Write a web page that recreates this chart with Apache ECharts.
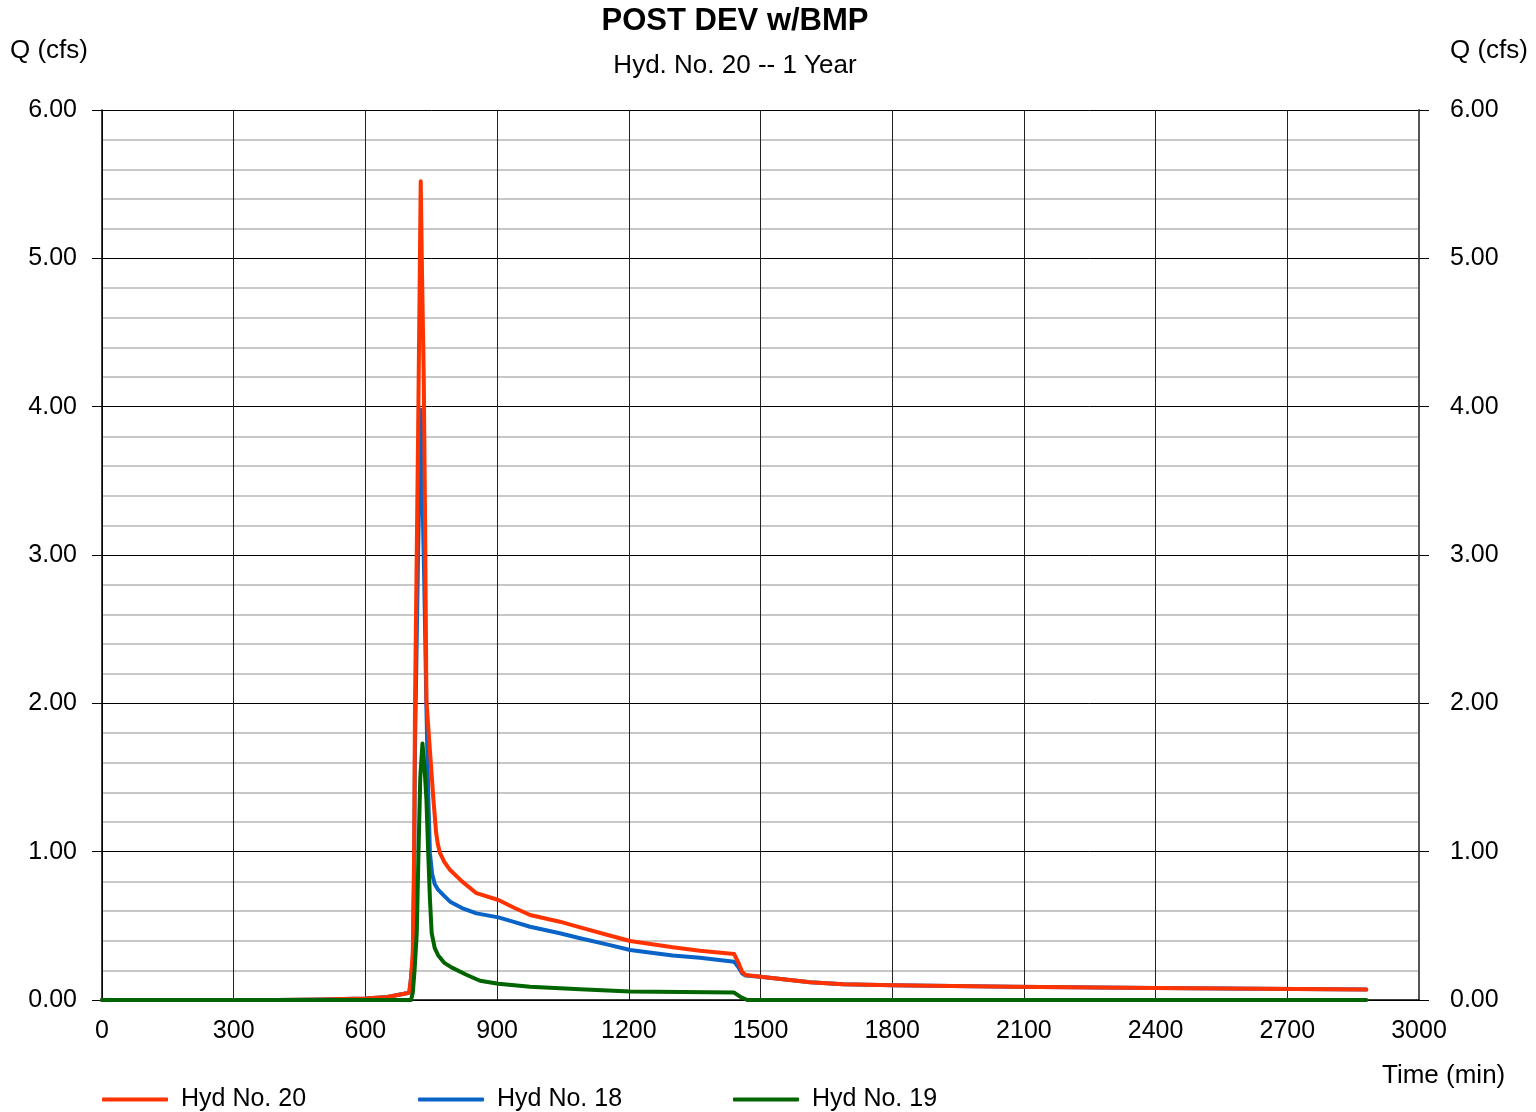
<!DOCTYPE html>
<html>
<head>
<meta charset="utf-8">
<title>POST DEV w/BMP</title>
<script src="https://cdn.jsdelivr.net/npm/echarts@6/dist/echarts.min.js"></script>
<style>
  html, body { margin: 0; padding: 0; background: #ffffff; }
  #chart { width: 1536px; height: 1112px; }
</style>
</head>
<body>
<div id="chart"></div>
<script>
// Hydrograph ordinates: time (min) and flow (cfs) per hydrograph
const hyd20Time = [0, 400, 500, 600, 650, 694, 700, 704, 708, 711, 713, 720, 726, 729, 733, 736, 739, 747, 755, 761, 765, 770, 780, 793, 820, 853, 903, 940, 975, 1043, 1089, 1150, 1203, 1300, 1362, 1440, 1450, 1458, 1466, 1500, 1613, 1688, 1800, 2074, 2399, 2880];
const hyd20Flow = [0, 0, 0.003, 0.01, 0.02, 0.045, 0.05, 0.15, 0.32, 1.0, 2.0, 3.8, 5.52, 4.9, 4.18, 3.2, 2.02, 1.68, 1.35, 1.13, 1.05, 0.99, 0.93, 0.876, 0.80, 0.72, 0.674, 0.62, 0.573, 0.528, 0.49, 0.44, 0.398, 0.355, 0.332, 0.31, 0.25, 0.19, 0.168, 0.157, 0.119, 0.106, 0.10, 0.09, 0.081, 0.07];

const hyd18Time = [0, 400, 500, 600, 650, 694, 700, 704, 708, 711, 713, 720, 726, 730, 734, 739, 743, 747, 752, 758, 766, 780, 793, 820, 853, 903, 940, 975, 1043, 1089, 1150, 1203, 1300, 1362, 1440, 1450, 1458, 1466, 1500, 1613, 1688, 1800, 2074, 2399, 2880];
const hyd18Flow = [0, 0, 0.003, 0.01, 0.02, 0.045, 0.05, 0.15, 0.28, 0.85, 1.7, 3.0, 3.98, 3.4, 2.83, 1.97, 1.4, 0.99, 0.85, 0.78, 0.742, 0.70, 0.663, 0.62, 0.584, 0.557, 0.525, 0.494, 0.45, 0.416, 0.375, 0.337, 0.30, 0.285, 0.258, 0.22, 0.18, 0.165, 0.157, 0.119, 0.106, 0.10, 0.09, 0.081, 0.07];

const hyd19Time = [0, 704, 708, 712, 717, 721, 725, 730, 735, 739, 743, 747, 751, 758, 766, 780, 796, 830, 861, 903, 975, 1089, 1203, 1440, 1455, 1470, 2880];
const hyd19Flow = [0, 0, 0.05, 0.2, 0.45, 1.0, 1.5, 1.73, 1.55, 1.35, 1.0, 0.68, 0.45, 0.35, 0.3, 0.25, 0.22, 0.17, 0.13, 0.11, 0.09, 0.073, 0.058, 0.05, 0.02, 0, 0];

// Axis settings
const timeMin = 0, timeMax = 3000, timeStep = 300;
const flowMin = 0, flowMax = 6, flowStep = 1;

const FONT = '"Liberation Sans", Arial, Helvetica, sans-serif';

function pairs(t, q) { return t.map((v, i) => [v, q[i]]); }

const chart = echarts.init(document.getElementById('chart'), null, { renderer: 'canvas' });

const flowAxisCommon = {
  type: 'value',
  min: flowMin,
  max: flowMax,
  interval: flowStep,
  axisLabel: {
    fontFamily: FONT, fontSize: 25, color: '#000',
    formatter: v => v.toFixed(2)
  },
  axisTick: { show: true, inside: false, length: 10, lineStyle: { color: '#000', width: 1 } },
  minorTick: { show: false, splitNumber: 5 },
  minorSplitLine: { show: true, lineStyle: { color: '#c8c8c8', width: 2 } },
  splitLine: { show: true, lineStyle: { color: '#000', width: 1 } }
};

const seriesLine = (name, color, data, z) => ({
  name, type: 'line', data,
  xAxisIndex: 0, yAxisIndex: 0,
  showSymbol: false, symbol: 'none',
  smooth: false, z,
  lineStyle: { color, width: 4, cap: 'round', join: 'round' },
  itemStyle: { color },
  emphasis: { disabled: true },
  animation: false
});

const legendBase = (name, left) => ({
  data: [name],
  left, top: 1087,
  padding: 0,
  icon: 'roundRect',
  itemWidth: 66, itemHeight: 4,
  textStyle: { fontFamily: FONT, fontSize: 25, color: '#000', padding: [0, 0, 0, 8] },
  selectedMode: false
});

chart.setOption({
  backgroundColor: '#ffffff',
  animation: false,
  grid: { left: 102, right: 117, top: 110, bottom: 112, containLabel: false },
  xAxis: {
    type: 'value',
    min: timeMin, max: timeMax, interval: timeStep,
    axisLine: { show: true, onZero: false, lineStyle: { color: '#000', width: 1.5 } },
    axisTick: { show: false },
    axisLabel: { fontFamily: FONT, fontSize: 25, color: '#000', margin: 19, formatter: v => String(v) },
    splitLine: { show: true, lineStyle: { color: '#222', width: 1 } }
  },
  yAxis: [
    Object.assign({}, flowAxisCommon, {
      position: 'left',
      axisLine: { show: true, lineStyle: { color: '#000', width: 1.5 } },
      axisLabel: Object.assign({}, flowAxisCommon.axisLabel, { margin: 25 })
    }),
    Object.assign({}, flowAxisCommon, {
      position: 'right',
      axisLine: { show: true, lineStyle: { color: '#555', width: 2 } },
      axisLabel: Object.assign({}, flowAxisCommon.axisLabel, { margin: 31 }),
      splitLine: { show: false },
      minorSplitLine: { show: false }
    })
  ],
  legend: [
    legendBase('Hyd No. 20', 102),
    legendBase('Hyd No. 18', 418),
    legendBase('Hyd No. 19', 733)
  ],
  series: [
    seriesLine('Hyd No. 18', '#0a64c8', pairs(hyd18Time, hyd18Flow), 2),
    seriesLine('Hyd No. 20', '#ff3300', pairs(hyd20Time, hyd20Flow), 3),
    seriesLine('Hyd No. 19', '#006400', pairs(hyd19Time, hyd19Flow), 4)
  ],
  graphic: [
    { type: 'text', x: 735, y: 21, style: { text: 'POST DEV w/BMP', fontFamily: FONT, fontSize: 31, fontWeight: 'bold', fill: '#000', textAlign: 'center', textVerticalAlign: 'middle' } },
    { type: 'text', x: 735, y: 66, style: { text: 'Hyd. No. 20 -- 1 Year', fontFamily: FONT, fontSize: 26, fill: '#000', textAlign: 'center', textVerticalAlign: 'middle' } },
    { type: 'text', x: 10, y: 51, style: { text: 'Q (cfs)', fontFamily: FONT, fontSize: 26, fill: '#000', textAlign: 'left', textVerticalAlign: 'middle' } },
    { type: 'text', x: 1450, y: 51, style: { text: 'Q (cfs)', fontFamily: FONT, fontSize: 26, fill: '#000', textAlign: 'left', textVerticalAlign: 'middle' } },
    { type: 'text', x: 1382, y: 1076, style: { text: 'Time (min)', fontFamily: FONT, fontSize: 26, fill: '#000', textAlign: 'left', textVerticalAlign: 'middle' } }
  ]
});
</script>
</body>
</html>
